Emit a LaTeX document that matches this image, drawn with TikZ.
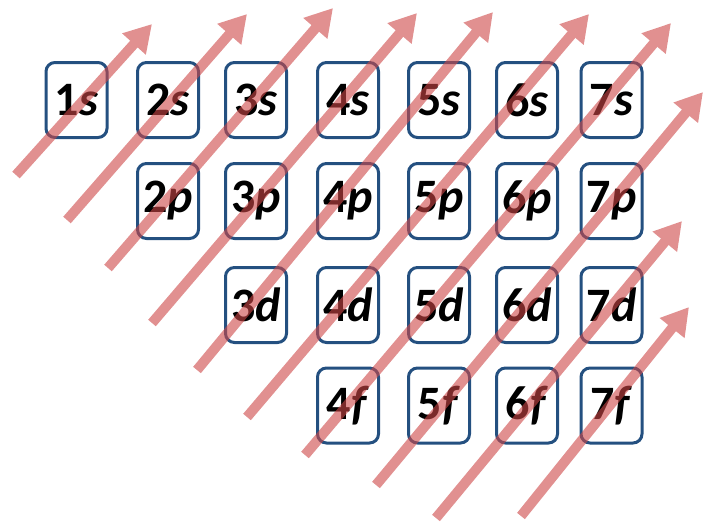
\documentclass[tikz,border=0pt]{standalone}
\usepackage{fontspec}
\setmainfont{Carlito}
\usetikzlibrary{arrows.meta}
\definecolor{boxblue}{RGB}{36,80,128}
\definecolor{arrowred}{RGB}{205,70,70}
\begin{document}
\begin{tikzpicture}[x=1pt,y=-1pt,
  orb/.style={draw=boxblue, line width=3pt, rounded corners=9pt,
    minimum width=61pt, minimum height=75pt, inner sep=0pt,
    font=\fontsize{48}{54}\selectfont\bfseries, text=black},
  diagarrow/.style={draw=arrowred, line width=10pt,
    -{Triangle[width=30pt,length=27pt]}}]
\useasboundingbox (0,0) rectangle (704,522);
% s row
\node[orb] (1s) at (76.5,100) {1\textit{s}};
\node[orb] (2s) at (168,100) {2\textit{s}};
\node[orb] (3s) at (256,100) {3\textit{s}};
\node[orb] (4s) at (348,100) {4\textit{s}};
\node[orb] (5s) at (439,100) {5\textit{s}};
\node[orb] (6s) at (527,100) {6\textit{s}};
\node[orb] (7s) at (611.5,100) {7\textit{s}};
% p row
\node[orb] (2p) at (168,201) {2\textit{p}};
\node[orb] (3p) at (256,201) {3\textit{p}};
\node[orb] (4p) at (348,201) {4\textit{p}};
\node[orb] (5p) at (439,201) {5\textit{p}};
\node[orb] (6p) at (527,201) {6\textit{p}};
\node[orb] (7p) at (611.5,201) {7\textit{p}};
% d row
\node[orb] (3d) at (256,305) {3\textit{d}};
\node[orb] (4d) at (348,305) {4\textit{d}};
\node[orb] (5d) at (439,305) {5\textit{d}};
\node[orb] (6d) at (527,305) {6\textit{d}};
\node[orb] (7d) at (611.5,305) {7\textit{d}};
% f row
\node[orb] (4f) at (348,405.5) {4\textit{f}};
\node[orb] (5f) at (439,405.5) {5\textit{f}};
\node[orb] (6f) at (527,405.5) {6\textit{f}};
\node[orb] (7f) at (611.5,405.5) {7\textit{f}};
% arrow ends
\coordinate (t1) at (16,175);   \coordinate (h1) at (152,24);
\coordinate (t2) at (67,220);   \coordinate (h2) at (247,14);
\coordinate (t3) at (108,268);  \coordinate (h3) at (333,8);
\coordinate (t4) at (152,323);  \coordinate (h4) at (417,13);
\coordinate (t5) at (197,370);  \coordinate (h5) at (493,12);
\coordinate (t6) at (247,417);  \coordinate (h6) at (589,14);
\coordinate (t7) at (305,455);  \coordinate (h7) at (671,23);
\coordinate (t8) at (376,485);  \coordinate (h8) at (703,92);
\coordinate (t9) at (436,518);  \coordinate (h9) at (682,221);
\coordinate (t10) at (521,516); \coordinate (h10) at (689,307);
\begin{scope}[transparency group, opacity=0.6]
\foreach \i in {1,...,10} {
  \draw[diagarrow] (t\i) -- (h\i);
}
\end{scope}
\end{tikzpicture}
\end{document}
